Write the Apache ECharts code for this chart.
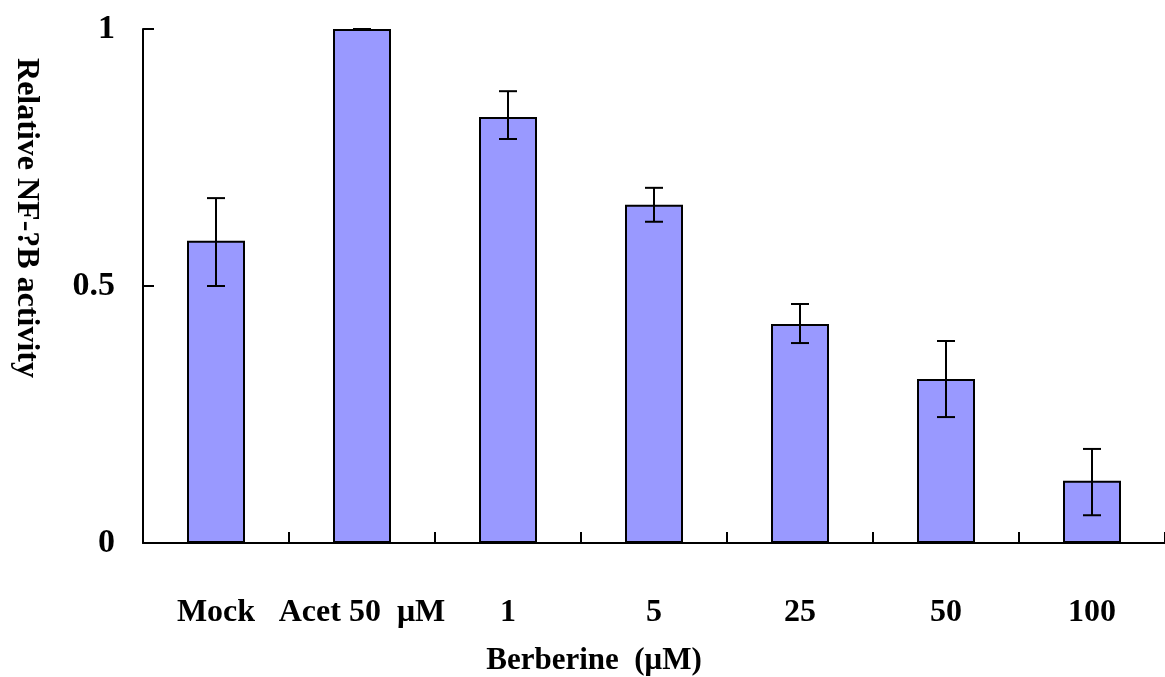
<!DOCTYPE html>
<html>
<head>
<meta charset="utf-8">
<script src="https://cdn.jsdelivr.net/npm/echarts@6/dist/echarts.min.js"></script>
<style>
  html, body { margin: 0; padding: 0; background: #fff; }
  #myCharts { width: 1165px; height: 677px; }
</style>
</head>
<body>
<div id="myCharts"></div>
<script>
  // 数据
  var categories = ['Mock', 'Acet 50  \u03bcM', '1', '5', '25', '50', '100'];
  var activity = [0.588, 1.0, 0.829, 0.658, 0.426, 0.319, 0.121];
  var errUp = [0.083, 0.0, 0.050, 0.033, 0.039, 0.074, 0.062];
  var errDown = [0.088, 0.0, 0.043, 0.033, 0.037, 0.074, 0.067];
  var yTicks = [0, 0.5, 1];

  var font = '"Liberation Serif", "Times New Roman", serif';

  var errData = activity.map(function (v, i) {
    return [i, v - errDown[i], v + errUp[i]];
  });

  var myChart = echarts.init(document.getElementById('myCharts'));
  var option = {
    animation: false,
    backgroundColor: '#fff',
    grid: {
      left: 143,
      top: 29,
      width: 1024,
      height: 514
    },
    xAxis: {
      type: 'category',
      data: categories,
      boundaryGap: true,
      axisLine: { lineStyle: { color: '#000', width: 2 } },
      axisTick: { show: true, interval: 0, inside: true, length: 11, lineStyle: { color: '#000', width: 2 } },
      axisLabel: {
        interval: 0,
        margin: 54,
        color: '#000',
        fontFamily: font,
        fontWeight: 'bold',
        fontSize: 32
      },
      splitLine: { show: false }
    },
    yAxis: {
      type: 'value',
      min: 0,
      max: 1,
      interval: 0.5,
      axisLine: { show: true, lineStyle: { color: '#000', width: 2 } },
      axisTick: { show: true, inside: true, length: 11, lineStyle: { color: '#000', width: 2 } },
      axisLabel: {
        margin: 28,
        color: '#000',
        fontFamily: font,
        fontWeight: 'bold',
        fontSize: 34,
        formatter: function (v) {
          return yTicks.indexOf(v) >= 0 ? String(v) : '';
        }
      },
      splitLine: { show: false }
    },
    graphic: [
      {
        type: 'text',
        x: 26,
        y: 218,
        rotation: -Math.PI / 2,
        style: {
          text: 'Relative NF-?B activity',
          fill: '#000',
          font: 'bold 32px ' + font,
          textAlign: 'center',
          textVerticalAlign: 'middle'
        }
      },
      {
        type: 'text',
        x: 594,
        y: 661,
        style: {
          text: 'Berberine  (\u03bcM)',
          fill: '#000',
          font: 'bold 31px ' + font,
          textAlign: 'center',
          textVerticalAlign: 'middle'
        }
      }
    ],
    series: [
      {
        type: 'bar',
        data: activity,
        barWidth: 58,
        itemStyle: {
          color: '#9999ff',
          borderColor: '#000',
          borderWidth: 2
        },
        z: 2
      },
      {
        type: 'custom',
        data: errData,
        z: 3,
        renderItem: function (params, api) {
          var x = api.value(0);
          var lo = api.coord([x, api.value(1)]);
          var hi = api.coord([x, api.value(2)]);
          var half = 9;
          var st = { stroke: '#000', lineWidth: 2 };
          return {
            type: 'group',
            children: [
              { type: 'line', shape: { x1: lo[0], y1: lo[1], x2: hi[0], y2: hi[1] }, style: st },
              { type: 'line', shape: { x1: hi[0] - half, y1: hi[1], x2: hi[0] + half, y2: hi[1] }, style: st },
              { type: 'line', shape: { x1: lo[0] - half, y1: lo[1], x2: lo[0] + half, y2: lo[1] }, style: st }
            ]
          };
        }
      }
    ]
  };
  myChart.setOption(option);
</script>
</body>
</html>
